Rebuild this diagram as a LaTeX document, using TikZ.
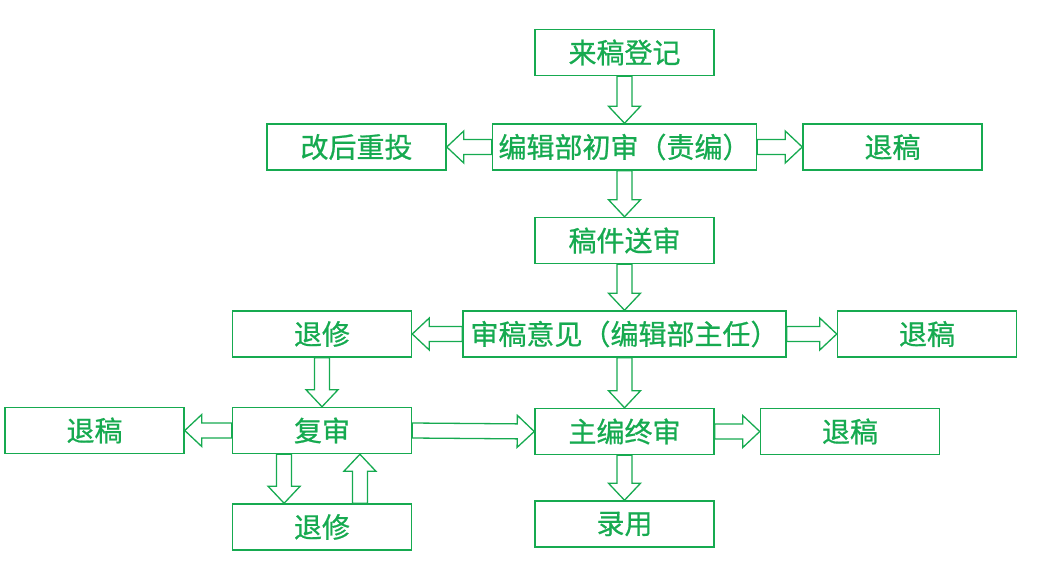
\documentclass[tikz,border=0pt]{standalone}
\usepackage{fontspec}
\newfontfamily\cjk[RawFeature={embolden=0.7}]{Noto Sans CJK SC}
\usetikzlibrary{positioning,calc}
\definecolor{lgreen}{RGB}{22,170,80}

\tikzset{
    box/.style={draw=lgreen, line width=1.5pt, text=lgreen,
        font=\cjk\fontsize{28}{30}\selectfont,
        minimum width=179pt, minimum height=46pt, inner sep=4pt},
    flow/.style={draw=lgreen, line width=1.3pt, line join=miter, fill=white}
}

% hollow block arrow from #1 to #2
\newcommand{\blockarrow}[2]{%
    \path (#1) coordinate (ba) (#2) coordinate (bb);
    \coordinate (bh) at ($(bb)!17pt!(ba)$);
    \draw[flow] ($(ba)!7.5pt!90:(bb)$) -- ($(bh)!7.5pt!90:(bb)$)
        -- ($(bh)!16pt!90:(bb)$) -- (bb) -- ($(bh)!16pt!-90:(bb)$)
        -- ($(bh)!7.5pt!-90:(bb)$) -- ($(ba)!7.5pt!-90:(bb)$) -- cycle;
}

\begin{document}
\begin{tikzpicture}[x=1pt, y=-1pt]

    \useasboundingbox (0,0) rectangle (1043,560);

    % Define nodes
    \node[box] at (624.5,52.5)             (ldj) {来稿登记};
    \node[box, below=47pt of ldj, minimum width=264pt] (cs) {编辑部初审（责编）};
    \node[box, left=45pt of cs]             (gh) {改后重投};
    \node[box, right=45pt of cs]           (tga) {退稿};
    \node[box, below=46pt of cs]            (ss) {稿件送审};
    \node[box, below=46pt of ss, minimum width=323pt] (yj) {审稿意见（编辑部主任）};
    \node[box, left=50pt of yj]            (txa) {退修};
    \node[box, right=50pt of yj]           (tgb) {退稿};
    \node[box, below=50pt of yj]            (zs) {主编终审};
    \node[box, right=45pt of zs]           (tgc) {退稿};
    \node[box, below=45pt of zs]            (ly) {录用};
    \node[box, below=49pt of txa]           (fs) {复审};
    \node[box, left=47pt of fs]            (tgd) {退稿};
    \node[box, below=49pt of fs]           (txb) {退修};

    \coordinate (fsd) at ($(fs.south west)!0.29!(fs.south east)$);
    \coordinate (fsu) at ($(fs.south west)!0.71!(fs.south east)$);

    % Connect the nodes
    \blockarrow {ldj.south} {cs.north}
    \blockarrow {cs.west} {gh.east}
    \blockarrow {cs.east} {tga.west}
    \blockarrow {cs.south} {ss.north}
    \blockarrow {ss.south} {yj.north}
    \blockarrow {yj.west} {txa.east}
    \blockarrow {yj.east} {tgb.west}
    \blockarrow {yj.south} {zs.north}
    \blockarrow {zs.east} {tgc.west}
    \blockarrow {zs.south} {ly.north}
    \blockarrow {txa.south} {fs.north}
    \blockarrow {fs.west} {tgd.east}
    \blockarrow {fs.east} {zs.west}
    \blockarrow {fsd} {fsd |- txb.north}
    \blockarrow {fsu |- txb.north} {fsu}

\end{tikzpicture}
\end{document}
